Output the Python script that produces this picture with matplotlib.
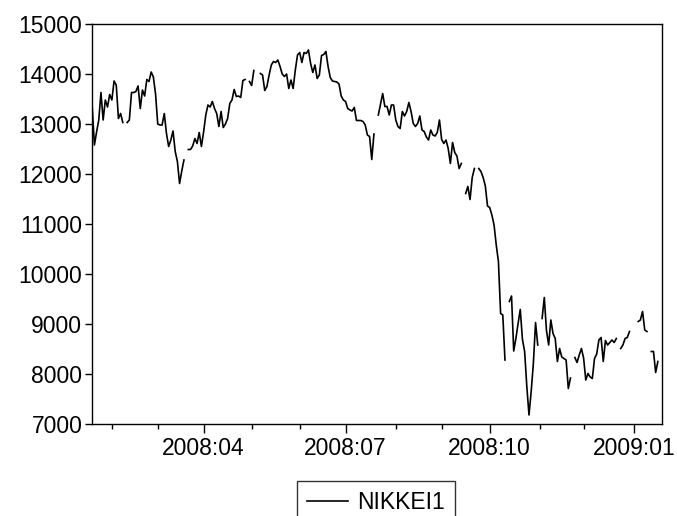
import numpy as np
import pandas as pd
import matplotlib
matplotlib.use("Agg")
import matplotlib.pyplot as plt

nan = np.nan

# Nikkei close, one list per month (5-day weeks, holidays left as nan)
jan08 = [13340, 12580, 12840, 13080, 13630, 13080, 13480, 13340, 13590]
feb08 = [13480, 13860, 13780, 13110, 13210, 13030, nan, 13030, 13080, 13630,
         13630, 13650, 13760, 13310, 13680, 13560, 13890, 13850, 14040, 13940,
         13600]
mar08 = [13000, 12980, 12980, 13210, 12810, 12550, 12680, 12860, 12450, 12250,
         11810, 12060, 12280, nan, 12490, 12490, 12560, 12710, 12610, 12830,
         12550]
apr08 = [12840, 13180, 13380, 13340, 13450, 13310, 13210, 12950, 13250, 12930,
         13000, 13110, 13410, 13480, 13690, 13550, 13560, 13530, 13870, 13890,
         nan, 13850]
may08 = [13770, 14070, nan, nan, 14010, 13980, 13670, 13750, 13980, 14180,
         14250, 14230, 14280, 14150, 14000, 13950, 14000, 13710, 13880, 13710,
         14080, 14380]
jun08 = [14430, 14230, 14430, 14410, 14480, 14210, 14030, 14180, 13910, 13980,
         14370, 14390, 14450, 14150, 13930, 13860, 13850, 13840, 13800, 13560,
         13480]
jul08 = [13450, 13310, 13280, 13260, 13330, 13070, 13070, 13070, 13050, 12980,
         12780, 12750, 12290, 12800, nan, 13180, 13400, 13610, 13350, 13350,
         13180, 13380, 13380]
aug08 = [13080, 12950, 12910, 13250, 13160, 13250, 13430, 13250, 13010, 12950,
         13010, 13160, 12880, 12850, 12740, 12680, 12880, 12780, 12760, 12830,
         13080]
sep08 = [12690, 12610, 12680, 12510, 12210, 12630, 12430, 12360, 12110, 12210,
         nan, 11610, 11750, 11490, 11930, 12110, nan, 12110, 12050, 11930,
         11760, 11360]
oct08 = [11330, 11180, 10980, 10580, 10250, 9210, 9180, 8280, nan, 9450,
         9560, 8460, 8710, 9010, 9290, 8690, 8450, 7750, 7180, 7650,
         8210, 9030, 8580]
nov08 = [nan, 9110, 9530, 8870, 8580, 9080, 8810, 8710, 8250, 8510,
         8340, 8310, 8280, 7710, 7920, nan, 8330, 8230, 8380, 8510]
dec08 = [8320, 7880, 8010, 7940, 7910, 8310, 8400, 8680, 8730, 8250,
         8670, 8580, 8630, 8680, 8630, 8710, nan, 8510, 8580, 8710,
         8730, 8850, nan]
jan09 = [nan, nan, 9050, 9080, 9250, 8880, 8850, nan, 8450, 8450, 8030, 8250]

nikkei1 = np.array(jan08 + feb08 + mar08 + apr08 + may08 + jun08 + jul08
                   + aug08 + sep08 + oct08 + nov08 + dec08 + jan09, dtype=float)
dates = pd.bdate_range("2008-01-21", "2009-01-16")
assert len(dates) == len(nikkei1)
pos = np.arange(len(dates))

plt.rcParams["font.family"] = ["Liberation Sans", "DejaVu Sans"]

fig = plt.figure(figsize=(6.77, 5.16), dpi=100)
W, H = 677, 516
ax = fig.add_axes([92 / W, 1 - 424 / H, (662 - 92) / W, (424 - 24) / H])

ax.plot(pos, nikkei1, color="black", lw=1.2, label="NIKKEI1")

ax.set_xlim(-0.1, 260.9)
ax.set_ylim(7000, 15000)
ax.set_yticks(np.arange(7000, 15001, 1000))

# month ticks: quarters labelled, the other months as short minor ticks
starts = [i for i in range(1, len(dates)) if dates[i].month != dates[i - 1].month]
major = [i for i in starts if dates[i].month in (1, 4, 7, 10)]
minor = [i for i in starts if i not in major]
ax.set_xticks(major)
ax.set_xticklabels([f"{dates[i].year}:{dates[i].month:02d}" for i in major])
ax.set_xticks(minor, minor=True)

ax.tick_params(axis="x", which="major", direction="out", length=6.5, width=1,
               labelsize=16.5, pad=3)
ax.tick_params(axis="x", which="minor", direction="out", length=3.5, width=1)
ax.tick_params(axis="y", direction="out", length=5, width=1, labelsize=16.5, pad=2)
for s in ax.spines.values():
    s.set_linewidth(1.0)

leg = fig.legend(loc="upper center", bbox_to_anchor=(376 / W, 1 - 481 / H),
                 bbox_transform=fig.transFigure, fontsize=16.5, frameon=True,
                 fancybox=False, edgecolor="black", borderaxespad=0,
                 handlelength=1.8, handletextpad=0.4, borderpad=0.45)
leg.get_frame().set_linewidth(1.0)

fig.savefig("out.png", dpi=100)
